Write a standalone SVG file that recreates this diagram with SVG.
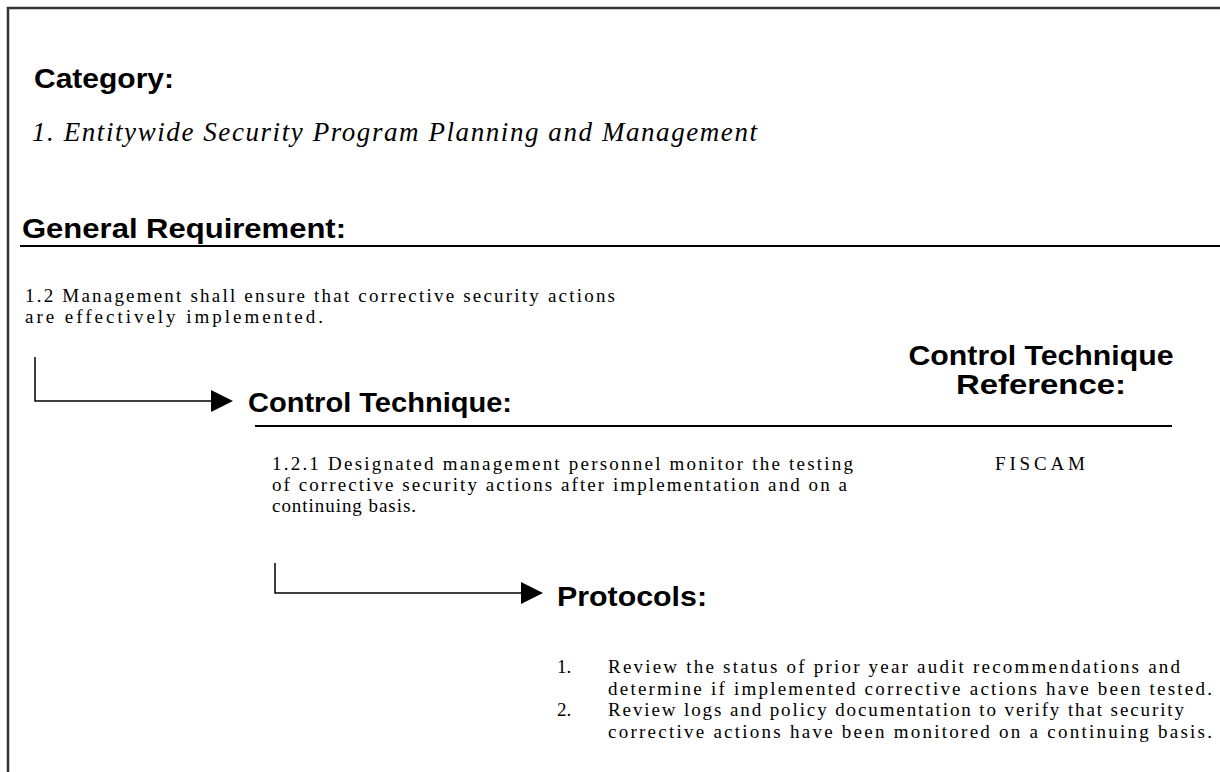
<svg xmlns="http://www.w3.org/2000/svg" width="1220" height="772" viewBox="0 0 1220 772">
<style>
.h{font-family:"Liberation Sans",Arial,sans-serif;font-weight:bold;font-size:28px;fill:#000}
.b{font-family:"Liberation Serif","Times New Roman",serif;font-size:19px;fill:#000}
.i{font-family:"Liberation Serif","Times New Roman",serif;font-style:italic;font-size:27px;fill:#000}
.rule{stroke:#000;stroke-width:2;fill:none}
.conn{stroke:#000;stroke-width:1.5;fill:none}
</style>
<defs>
<marker id="arr" viewBox="0 0 22 22" refX="0" refY="11" markerWidth="22" markerHeight="22" markerUnits="userSpaceOnUse" orient="auto">
<path d="M0,0 L22,11 L0,22 Z" fill="#000"/>
</marker>
</defs>
<rect width="1220" height="772" fill="#fff"/>
<g id="frame">
<path d="M8,772 V8 H1220" stroke="#333" stroke-width="2.5" fill="none"/>
</g>
<g id="category">
<text class="h" x="34" y="88" textLength="140" lengthAdjust="spacingAndGlyphs">Category:</text>
<text class="i" x="32" y="141" textLength="725" lengthAdjust="spacing">1. Entitywide Security Program Planning and Management</text>
</g>
<g id="general-requirement">
<text class="h" x="22" y="238" textLength="324" lengthAdjust="spacingAndGlyphs">General Requirement:</text>
<line class="rule" x1="20" y1="246" x2="1220" y2="246"/>
<text class="b" x="25" y="302" textLength="590" lengthAdjust="spacing">1.2 Management shall ensure that corrective security actions</text>
<text class="b" x="25" y="323" textLength="298" lengthAdjust="spacing">are effectively implemented.</text>
</g>
<g id="control-technique">
<text class="h" x="248" y="412" textLength="264" lengthAdjust="spacingAndGlyphs">Control Technique:</text>
<line class="rule" x1="255" y1="426" x2="1172" y2="426"/>
<text class="b" x="272" y="470" textLength="581" lengthAdjust="spacing">1.2.1 Designated management personnel monitor the testing</text>
<text class="b" x="272" y="491" textLength="575" lengthAdjust="spacing">of corrective security actions after implementation and on a</text>
<text class="b" x="272" y="512" textLength="144" lengthAdjust="spacing">continuing basis.</text>
</g>
<g id="control-technique-reference">
<text class="h" x="1041" y="365" text-anchor="middle" textLength="265" lengthAdjust="spacingAndGlyphs">Control Technique</text>
<text class="h" x="1041" y="394" text-anchor="middle" textLength="170" lengthAdjust="spacingAndGlyphs">Reference:</text>
<text class="b" x="1040" y="470" text-anchor="middle" textLength="90" lengthAdjust="spacing">FISCAM</text>
</g>
<g id="protocols">
<text class="h" x="557" y="606" textLength="150" lengthAdjust="spacingAndGlyphs">Protocols:</text>
<text class="b" x="557" y="673">1.</text>
<text class="b" x="608" y="673" textLength="572" lengthAdjust="spacing">Review the status of prior year audit recommendations and</text>
<text class="b" x="608" y="695" textLength="604" lengthAdjust="spacing">determine if implemented corrective actions have been tested.</text>
<text class="b" x="557" y="716">2.</text>
<text class="b" x="608" y="716" textLength="576" lengthAdjust="spacing">Review logs and policy documentation to verify that security</text>
<text class="b" x="608" y="738" textLength="604" lengthAdjust="spacing">corrective actions have been monitored on a continuing basis.</text>
</g>
<g id="connectors">
<path class="conn" d="M35,357 V401 H211" marker-end="url(#arr)"/>
<path class="conn" d="M275,563 V593 H521" marker-end="url(#arr)"/>
</g>
</svg>
